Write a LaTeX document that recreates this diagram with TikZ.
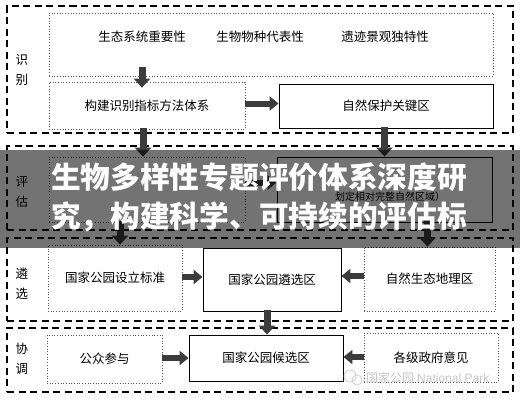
\documentclass[tikz,border=0pt]{standalone}
\usepackage{fontspec}
\setmainfont{Liberation Serif}
\newfontfamily\cjk{Noto Sans CJK SC}
\newfontfamily\latinsans{Liberation Sans}
\usetikzlibrary{arrows.meta}
\definecolor{arrowgray}{HTML}{3C3C3C}
\begin{document}
\begin{tikzpicture}[x=1pt,y=-1pt,
  sec/.style={draw=black, line width=1.1pt, dash pattern=on 7pt off 4.5pt, inner sep=0pt},
  dotbox/.style={draw=gray!70!black, line width=0.7pt, dotted, inner sep=0pt,
    font=\cjk\fontsize{12.5}{15}\selectfont},
  solidbox/.style={draw=black, line width=0.9pt, inner sep=0pt,
    font=\cjk\fontsize{12.5}{15}\selectfont},
  plain/.style={inner sep=0pt, font=\cjk\fontsize{12.5}{15}\selectfont},
  side/.style={inner sep=0pt, align=center, font=\cjk\fontsize{12.5}{20}\selectfont},
  blkv/.style={draw=arrowgray, line width=7pt, -{Triangle[width=16pt,length=9pt]}},
  blkh/.style={draw=arrowgray, line width=6pt, -{Triangle[width=14pt,length=9pt]}},
  ttl/.style={inner sep=0pt, anchor=west, text=white, font=\cjk\bfseries\fontsize{29.7}{32}\selectfont},
]
\useasboundingbox (0,0) rectangle (520,400);
\fill[white] (0,0) rectangle (520,400);

% sections
\node[sec, minimum width=506pt, minimum height=127pt] (s1) at (260,69.5) {};
\node[sec, minimum width=506pt, minimum height=84pt] (s2) at (260,188) {};
\node[sec, minimum width=506pt, minimum height=83pt] (s3) at (260,279.5) {};
\node[sec, minimum width=506pt, minimum height=64pt] (s4) at (260,360) {};

% side labels
\node[side] (l1) at (22,70) {识\\别};
\node[side] (l2) at (22,192) {评\\估};
\node[side] (l3) at (22,284) {遴\\选};
\node[side] (l4) at (22,359) {协\\调};

% section 1
\node[dotbox, minimum width=444pt, minimum height=63pt] (top) at (271,44.5) {};
\node[plain] (t1) at (142,37) {生态系统重要性};
\node[plain] (t2) at (260,37) {生物物种代表性};
\node[plain] (t3) at (385,37) {遗迹景观独特性};
\node[dotbox, minimum width=196pt, minimum height=47pt] (build) at (147,105.5) {构建识别指标方法体系};
\node[solidbox, minimum width=214pt, minimum height=44pt] (key) at (386,106) {自然保护关键区};

% section 2
\node[dotbox, minimum width=196pt, minimum height=65pt] (evL) at (147,189.5) {};
\node[solidbox, minimum width=215pt, minimum height=65pt] (evR) at (384.5,189.5) {};
\node[inner sep=0pt, font=\cjk\fontsize{10}{12}\selectfont] (evRt) at (390,197) {划定相对完整自然区域）};

% section 3
\node[dotbox, minimum width=134pt, minimum height=66pt] (std) at (115,278) {国家公园设立标准};
\node[solidbox, minimum width=138pt, minimum height=63pt] (sel) at (272,279.5) {国家公园遴选区};
\node[dotbox, minimum width=131pt, minimum height=64pt] (geo) at (429.5,279) {自然生态地理区};

% section 4
\node[dotbox, minimum width=115pt, minimum height=48pt] (pub) at (104.5,359) {公众参与};
\node[solidbox, minimum width=154pt, minimum height=46pt] (cand) at (266,358) {国家公园候选区};
\node[dotbox, minimum width=134pt, minimum height=49pt] (gov) at (431,357.5) {各级政府意见};

% arrows
\draw[blkv, shorten <=-9pt, shorten >=-6pt] (top.south -| t1) -- (build.north -| t1);
\draw[blkh] ([yshift=2pt]build.east) -- ([yshift=2pt]build.east -| key.west);
\draw[blkv, shorten <=-1pt] ([xshift=-4pt]build.south) -- ([xshift=-4pt]build.south |- evL.north);
\draw[blkv, shorten <=-1pt] (evR.north |- key.south) -- (evR.north);
\draw[blkh] ([yshift=7pt]evL.east) -- ([yshift=7pt]evL.east -| evR.west);
\draw[blkv, shorten <=-1pt] ([xshift=5pt]std.north |- evL.south) -- ([xshift=5pt]std.north);
\draw[blkv, shorten <=-1pt] ([xshift=-2pt]geo.north |- evR.south) -- ([xshift=-2pt]geo.north);
\draw[blkh] ([yshift=1pt]std.east) -- ([yshift=1pt]std.east -| sel.west);
\draw[blkh] ([yshift=3pt]geo.west) -- ([yshift=3pt]geo.west -| sel.east);
\draw[blkv, shorten <=-1pt] ([xshift=-5pt]sel.south) -- ([xshift=-5pt]sel.south |- cand.north);
\draw[blkh] ([yshift=1pt]pub.east) -- ([yshift=1pt]pub.east -| cand.west);
\draw[blkh] ([yshift=0.5pt]gov.west) -- ([yshift=0.5pt]gov.west -| cand.east);

% watermark
\draw[gray!45, line width=0.6pt] (350,376) circle (6);
\draw[gray!45, line width=0.6pt] (357,380) circle (5);
\node[inner sep=0pt, anchor=west, text=gray!45, font=\fontsize{12}{14}\selectfont] (wm) at (366,378)
  {{\cjk 国家公园} \latinsans National Park};

% overlay band with title
\fill[black, fill opacity=0.55] (0,150) rectangle (520,248);
\node[ttl] (title1) at (51,177) {生物多样性专题评价体系深度研};
\node[ttl] (title2) at (51,217) {究，构建科学、可持续的评估标};
\end{tikzpicture}
\end{document}
